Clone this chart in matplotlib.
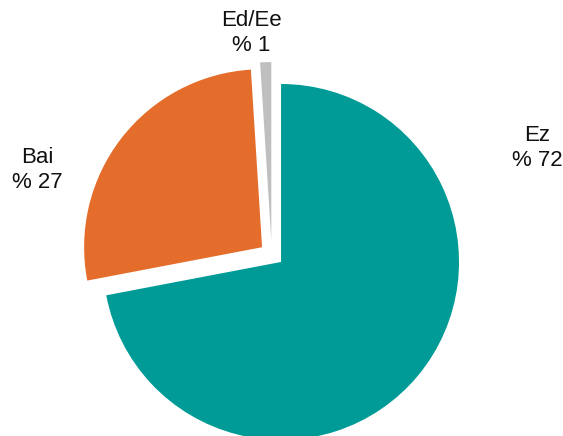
import matplotlib.pyplot as plt
import numpy as np

plt.rcParams['font.family'] = ['Liberation Sans', 'DejaVu Sans']

labels = ['Ez', 'Bai', 'Ed/Ee']
shares = [72, 27, 1]
colors = ['#009B96', '#E56D2B', '#BFBFBF']
explode = [0, 0.135, 0.135]

# label anchor points (pie radius = 1)
label_pos = [(1.438, 0.640), (-1.371, 0.517), (-0.169, 1.287)]


def main():
    fig = plt.figure(figsize=(5.63, 4.36), dpi=100)
    ax = fig.add_axes([0, 0, 1, 1])
    wedges, _ = ax.pie(shares, colors=colors, explode=explode, startangle=90,
                       counterclock=False, wedgeprops={'linewidth': 0})
    # small slice is pushed out up-left rather than straight out
    ang = np.radians(114)
    wedges[2].set_center((explode[2] * np.cos(ang), explode[2] * np.sin(ang)))

    for lab, val, (x, y) in zip(labels, shares, label_pos):
        ax.text(x, y, '%s\n%% %d' % (lab, val), ha='center', va='center',
                fontsize=16, color='#111111', linespacing=1.22)

    ax.set_xlim(-1.579, 1.584)
    ax.set_ylim(-0.978, 1.472)
    ax.set_aspect('equal')
    ax.axis('off')
    fig.savefig('out.png', dpi=100)


if __name__ == '__main__':
    main()
